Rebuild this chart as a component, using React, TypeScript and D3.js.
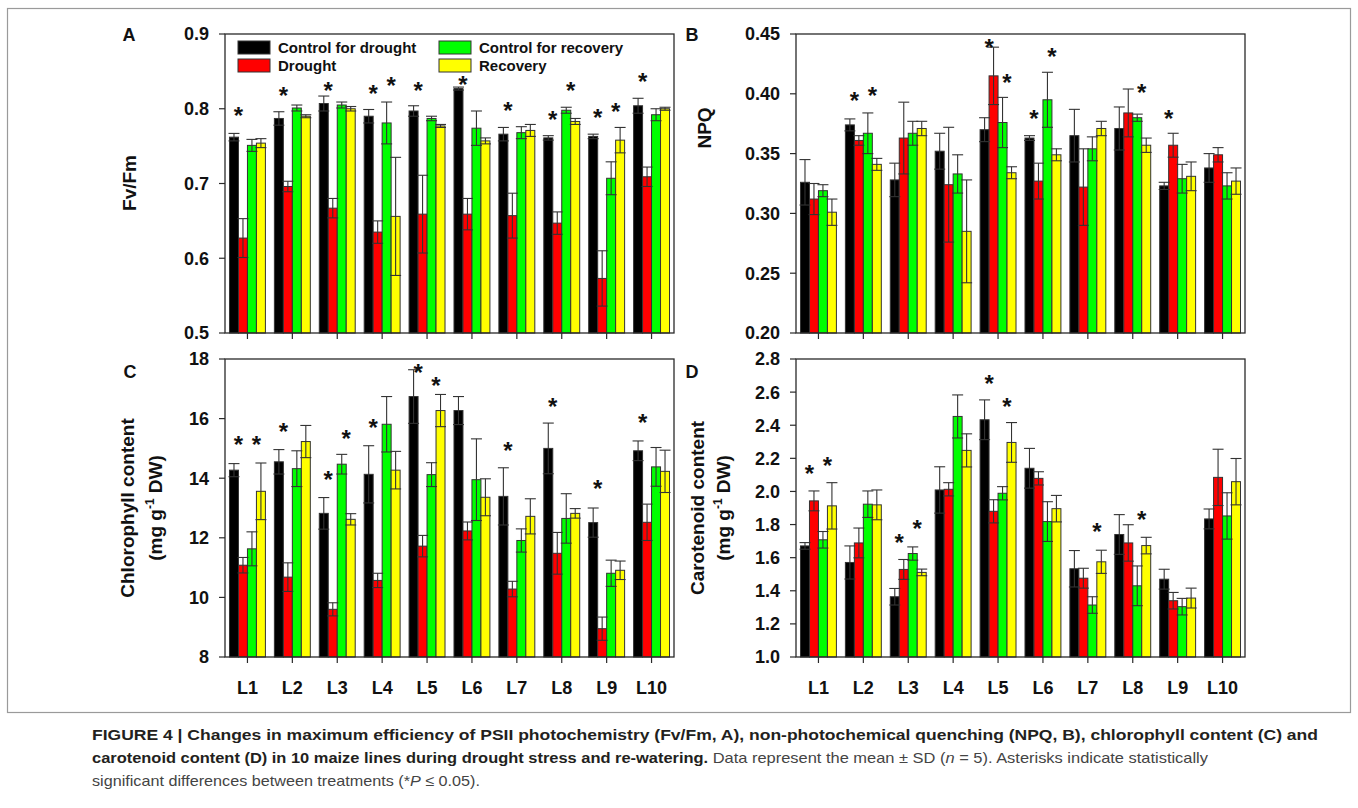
import React from "react";
import * as d3 from "d3";

const W = 1358;
const H = 808;
const FONT = "'Liberation Sans', Arial, Helvetica, sans-serif";

const lines = ["L1", "L2", "L3", "L4", "L5", "L6", "L7", "L8", "L9", "L10"];
const seriesNames = ["Control for drought", "Drought", "Control for recovery", "Recovery"];
const seriesColors = ["#000000", "#ff0000", "#00ff00", "#ffff00"];

// Panel A – Fv/Fm
const fvfmCtrlDrought = [0.762, 0.787, 0.807, 0.79, 0.797, 0.827, 0.766, 0.761, 0.763, 0.804];
const fvfmCtrlDroughtSD = [0.005, 0.009, 0.01, 0.009, 0.007, 0.002, 0.009, 0.003, 0.003, 0.01];
const fvfmDrought = [0.627, 0.696, 0.667, 0.635, 0.659, 0.659, 0.657, 0.647, 0.573, 0.709];
const fvfmDroughtSD = [0.026, 0.007, 0.013, 0.015, 0.052, 0.021, 0.03, 0.015, 0.037, 0.013];
const fvfmCtrlRecovery = [0.751, 0.801, 0.805, 0.781, 0.787, 0.774, 0.768, 0.798, 0.707, 0.792];
const fvfmCtrlRecoverySD = [0.008, 0.004, 0.004, 0.028, 0.003, 0.023, 0.008, 0.004, 0.022, 0.008];
const fvfmRecovery = [0.754, 0.79, 0.8, 0.656, 0.777, 0.757, 0.771, 0.783, 0.758, 0.8];
const fvfmRecoverySD = [0.006, 0.002, 0.003, 0.079, 0.002, 0.004, 0.008, 0.004, 0.017, 0.002];
const fvfmTicks = [0.5, 0.6, 0.7, 0.8, 0.9];
// [line, pair (0 = drought, 1 = recovery), level]
const fvfmStars: [string, number, number][] = [
  ["L1", 0, 0.798], ["L2", 0, 0.825], ["L3", 0, 0.832], ["L4", 0, 0.828], ["L4", 1, 0.838],
  ["L5", 0, 0.832], ["L6", 0, 0.84], ["L7", 0, 0.805], ["L8", 0, 0.793], ["L8", 1, 0.832],
  ["L9", 0, 0.796], ["L9", 1, 0.804], ["L10", 0, 0.844],
];

// Panel B – NPQ
const npqCtrlDrought = [0.326, 0.374, 0.328, 0.352, 0.37, 0.363, 0.365, 0.371, 0.323, 0.338];
const npqCtrlDroughtSD = [0.019, 0.005, 0.014, 0.015, 0.01, 0.002, 0.022, 0.018, 0.003, 0.012];
const npqDrought = [0.312, 0.361, 0.363, 0.324, 0.415, 0.327, 0.322, 0.384, 0.357, 0.349];
const npqDroughtSD = [0.013, 0.004, 0.03, 0.048, 0.024, 0.015, 0.032, 0.02, 0.01, 0.006];
const npqCtrlRecovery = [0.319, 0.367, 0.367, 0.333, 0.376, 0.395, 0.354, 0.38, 0.329, 0.323];
const npqCtrlRecoverySD = [0.005, 0.017, 0.01, 0.016, 0.021, 0.023, 0.01, 0.003, 0.012, 0.011];
const npqRecovery = [0.301, 0.341, 0.371, 0.285, 0.334, 0.349, 0.371, 0.357, 0.331, 0.327];
const npqRecoverySD = [0.011, 0.005, 0.006, 0.043, 0.005, 0.005, 0.006, 0.006, 0.012, 0.011];
const npqTicks = [0.2, 0.25, 0.3, 0.35, 0.4, 0.45];
const npqStars: [string, number, number][] = [
  ["L2", 0, 0.399], ["L2", 1, 0.403], ["L5", 0, 0.4436], ["L5", 1, 0.414],
  ["L6", 0, 0.384], ["L6", 1, 0.436], ["L8", 1, 0.406], ["L9", 0, 0.384],
];

// Panel C – Chlorophyll
const chlCtrlDrought = [14.27, 14.55, 12.82, 14.13, 16.74, 16.27, 13.39, 15.0, 12.51, 14.92];
const chlCtrlDroughtSD = [0.22, 0.41, 0.53, 0.96, 0.9, 0.47, 0.96, 0.85, 0.49, 0.33];
const chlDrought = [11.08, 10.68, 9.6, 10.57, 11.72, 12.23, 10.28, 11.48, 8.95, 12.52];
const chlDroughtSD = [0.26, 0.48, 0.22, 0.24, 0.36, 0.3, 0.26, 0.7, 0.39, 0.61];
const chlCtrlRecovery = [11.63, 14.32, 14.47, 15.81, 14.12, 13.95, 11.91, 12.65, 10.81, 14.38];
const chlCtrlRecoverySD = [0.57, 0.6, 0.33, 0.93, 0.4, 1.37, 0.39, 0.83, 0.44, 0.65];
const chlRecovery = [13.56, 15.23, 12.62, 14.27, 16.27, 13.36, 12.72, 12.82, 10.91, 14.23];
const chlRecoverySD = [0.95, 0.54, 0.19, 0.63, 0.54, 0.62, 0.59, 0.16, 0.31, 0.71];
const chlTicks = [8, 10, 12, 14, 16, 18];
const chlStars: [string, number, number][] = [
  ["L1", 0, 15.31], ["L1", 1, 15.31], ["L2", 0, 15.75], ["L3", 0, 14.13], ["L3", 1, 15.53],
  ["L4", 0, 15.9], ["L5", 0, 17.74], ["L5", 1, 17.3], ["L7", 0, 15.11], ["L8", 0, 16.59],
  ["L9", 0, 13.83], ["L10", 0, 16.06],
];

// Panel D – Carotenoid
const carCtrlDrought = [1.671, 1.571, 1.364, 2.009, 2.433, 2.14, 1.533, 1.74, 1.47, 1.834];
const carCtrlDroughtSD = [0.02, 0.1, 0.05, 0.14, 0.12, 0.12, 0.11, 0.12, 0.06, 0.06];
const carDrought = [1.943, 1.689, 1.529, 2.013, 1.88, 2.079, 1.476, 1.689, 1.34, 2.085];
const carDroughtSD = [0.06, 0.09, 0.06, 0.04, 0.07, 0.04, 0.06, 0.11, 0.05, 0.17];
const carCtrlRecovery = [1.708, 1.923, 1.625, 2.453, 1.989, 1.818, 1.314, 1.43, 1.304, 1.852];
const carCtrlRecoverySD = [0.05, 0.08, 0.04, 0.13, 0.04, 0.12, 0.05, 0.12, 0.05, 0.14];
const carRecovery = [1.913, 1.919, 1.511, 2.248, 2.296, 1.896, 1.575, 1.673, 1.356, 2.059];
const carRecoverySD = [0.14, 0.09, 0.02, 0.1, 0.12, 0.08, 0.07, 0.05, 0.06, 0.14];
const carTicks = [1.0, 1.2, 1.4, 1.6, 1.8, 2.0, 2.2, 2.4, 2.6, 2.8];
const carStars: [string, number, number][] = [
  ["L1", 0, 2.14], ["L1", 1, 2.19], ["L3", 0, 1.723], ["L3", 1, 1.808],
  ["L5", 0, 2.687], ["L5", 1, 2.546], ["L7", 1, 1.79], ["L8", 1, 1.864],
];

type PanelSpec = {
  letter: string;
  letterX: number;
  letterY: number;
  x0: number;
  x1: number;
  y0: number;
  y1: number;
  ticks: number[];
  fmt: (v: number) => string;
  means: number[][];
  sds: number[][];
  stars: [string, number, number][];
  showXLabels: boolean;
  legend: boolean;
};

const panels: PanelSpec[] = [
  {
    letter: "A", letterX: 129, letterY: 41, x0: 225, x1: 674, y0: 34, y1: 333,
    ticks: fvfmTicks, fmt: d3.format(".1f"),
    means: [fvfmCtrlDrought, fvfmDrought, fvfmCtrlRecovery, fvfmRecovery],
    sds: [fvfmCtrlDroughtSD, fvfmDroughtSD, fvfmCtrlRecoverySD, fvfmRecoverySD],
    stars: fvfmStars, showXLabels: false, legend: true,
  },
  {
    letter: "B", letterX: 692, letterY: 41, x0: 796, x1: 1245, y0: 34, y1: 333,
    ticks: npqTicks, fmt: d3.format(".2f"),
    means: [npqCtrlDrought, npqDrought, npqCtrlRecovery, npqRecovery],
    sds: [npqCtrlDroughtSD, npqDroughtSD, npqCtrlRecoverySD, npqRecoverySD],
    stars: npqStars, showXLabels: false, legend: false,
  },
  {
    letter: "C", letterX: 130, letterY: 378, x0: 225, x1: 674, y0: 359, y1: 657,
    ticks: chlTicks, fmt: d3.format("d"),
    means: [chlCtrlDrought, chlDrought, chlCtrlRecovery, chlRecovery],
    sds: [chlCtrlDroughtSD, chlDroughtSD, chlCtrlRecoverySD, chlRecoverySD],
    stars: chlStars, showXLabels: true, legend: false,
  },
  {
    letter: "D", letterX: 692, letterY: 378, x0: 796, x1: 1245, y0: 359, y1: 657,
    ticks: carTicks, fmt: d3.format(".1f"),
    means: [carCtrlDrought, carDrought, carCtrlRecovery, carRecovery],
    sds: [carCtrlDroughtSD, carDroughtSD, carCtrlRecoverySD, carRecoverySD],
    stars: carStars, showXLabels: true, legend: false,
  },
];

const AXIS = "#2a2a2a";
const ERR = "#333333";

function BarPanel({ p }: { p: PanelSpec }) {
  const x = d3.scaleBand<string>().domain(lines).range([p.x0, p.x1]).paddingInner(0).paddingOuter(0);
  const xi = d3
    .scaleBand<string>()
    .domain(["0", "1", "2", "3"])
    .range([0, x.bandwidth()])
    .paddingInner(0)
    .paddingOuter(0.5);
  const y = d3
    .scaleLinear()
    .domain([p.ticks[0], p.ticks[p.ticks.length - 1]])
    .range([p.y1, p.y0]);
  const bw = xi.bandwidth();
  const cap = 5.5;

  const bars: React.ReactNode[] = [];
  const errs: React.ReactNode[] = [];
  p.means.forEach((series, s) => {
    series.forEach((v, i) => {
      const bx = (x(lines[i]) as number) + (xi(String(s)) as number);
      const top = y(v);
      bars.push(
        <rect
          key={`b${s}-${i}`}
          x={bx}
          y={top}
          width={bw}
          height={p.y1 - top}
          fill={seriesColors[s]}
          stroke="#333"
          strokeWidth={1}
        />
      );
      const sd = p.sds[s][i];
      const cx = bx + bw / 2;
      const hi = y(v + sd);
      const lo = y(v - sd);
      errs.push(
        <g key={`e${s}-${i}`} stroke={ERR} strokeWidth={1.1}>
          <line x1={cx} x2={cx} y1={hi} y2={lo} />
          <line x1={cx - cap} x2={cx + cap} y1={hi} y2={hi} />
          <line x1={cx - cap} x2={cx + cap} y1={lo} y2={lo} />
        </g>
      );
    });
  });

  return (
    <g>
      {bars}
      {errs}
      {p.stars.map(([ln, pair, level], k) => {
        const sx = (x(ln) as number) + (xi(pair === 0 ? "1" : "3") as number);
        return (
          <text
            key={`s${k}`}
            x={sx}
            y={y(level) + 14}
            textAnchor="middle"
            fontFamily={FONT}
            fontWeight="bold"
            fontSize={24}
            fill="#111"
          >
            *
          </text>
        );
      })}
      <rect x={p.x0} y={p.y0} width={p.x1 - p.x0} height={p.y1 - p.y0} fill="none" stroke={AXIS} strokeWidth={1.3} />
      {p.ticks.map((t) => (
        <g key={`yt${t}`}>
          <line x1={p.x0 - 6} x2={p.x0} y1={y(t)} y2={y(t)} stroke={AXIS} strokeWidth={1.2} />
          <text
            x={p.x0 - 16}
            y={y(t)}
            dy="0.36em"
            textAnchor="end"
            fontFamily={FONT}
            fontWeight="bold"
            fontSize={18}
            fill="#111"
          >
            {p.fmt(t)}
          </text>
        </g>
      ))}
      {lines.map((ln) => {
        const cx = (x(ln) as number) + x.bandwidth() / 2;
        return (
          <g key={`xt${ln}`}>
            <line x1={cx} x2={cx} y1={p.y1} y2={p.y1 + 6} stroke={AXIS} strokeWidth={1.2} />
            {p.showXLabels && (
              <text
                x={cx}
                y={694}
                textAnchor="middle"
                fontFamily={FONT}
                fontWeight="bold"
                fontSize={18}
                fill="#111"
              >
                {ln}
              </text>
            )}
          </g>
        );
      })}
      <text x={p.letterX} y={p.letterY} textAnchor="middle" fontFamily={FONT} fontWeight="bold" fontSize={18} fill="#111">
        {p.letter}
      </text>
      {p.legend &&
        seriesNames.map((name, s) => {
          const col = Math.floor(s / 2);
          const row = s % 2;
          const lx = p.x0 + 13 + col * 201;
          const ly = p.y0 + 7 + row * 18;
          return (
            <g key={`lg${s}`}>
              <rect x={lx} y={ly} width={32} height={13} fill={seriesColors[s]} stroke="#333" strokeWidth={1} />
              <text x={lx + 40} y={ly + 12} fontFamily={FONT} fontWeight="bold" fontSize={15} fill="#111">
                {name}
              </text>
            </g>
          );
        })}
    </g>
  );
}

function YTitle({ x, y, children }: { x: number; y: number; children: React.ReactNode }) {
  return (
    <text
      transform={`translate(${x},${y}) rotate(-90)`}
      textAnchor="middle"
      fontFamily={FONT}
      fontWeight="bold"
      fontSize={19}
      fill="#111"
    >
      {children}
    </text>
  );
}

export default function App() {
  return (
    <svg
      width={W}
      height={H}
      viewBox={`0 0 ${W} ${H}`}
      style={{ position: "absolute", left: 0, top: 0, display: "block", background: "#fff" }}
    >
      <rect x={0} y={0} width={W} height={H} fill="#fff" />
      <rect x={7.5} y={8.5} width={1343} height={704} fill="none" stroke="#9a9a9a" strokeWidth={1.2} />
      {panels.map((p) => (
        <BarPanel key={p.letter} p={p} />
      ))}
      <YTitle x={136} y={183}>Fv/Fm</YTitle>
      <YTitle x={711} y={128}>NPQ</YTitle>
      <YTitle x={134} y={508}>Chlorophyll content</YTitle>
      <YTitle x={162} y={508}>
        (mg g<tspan fontSize={12} dy={-8}>-1</tspan>
        <tspan dy={8}> DW)</tspan>
      </YTitle>
      <YTitle x={704} y={508}>Carotenoid content</YTitle>
      <YTitle x={730} y={508}>
        (mg g<tspan fontSize={12} dy={-8}>-1</tspan>
        <tspan dy={8}> DW)</tspan>
      </YTitle>
      <g fontFamily={FONT} fontSize={15}>
        <text x={92} y={740} fill="#231f20" fontWeight="bold" textLength={1226} lengthAdjust="spacingAndGlyphs">
          FIGURE 4 | Changes in maximum efficiency of PSII photochemistry (Fv/Fm, A), non-photochemical quenching (NPQ, B), chlorophyll content (C) and
        </text>
        <text x={92} y={763} fill="#444" textLength={1116} lengthAdjust="spacingAndGlyphs">
          <tspan fontWeight="bold" fill="#231f20">
            carotenoid content (D) in 10 maize lines during drought stress and re-watering.
          </tspan>
          <tspan> Data represent the mean ± SD (</tspan>
          <tspan fontStyle="italic">n</tspan>
          <tspan> = 5). Asterisks indicate statistically</tspan>
        </text>
        <text x={92} y={786} fill="#444" textLength={388} lengthAdjust="spacingAndGlyphs">
          <tspan>significant differences between treatments (*</tspan>
          <tspan fontStyle="italic">P</tspan>
          <tspan> ≤ 0.05).</tspan>
        </text>
      </g>
    </svg>
  );
}
